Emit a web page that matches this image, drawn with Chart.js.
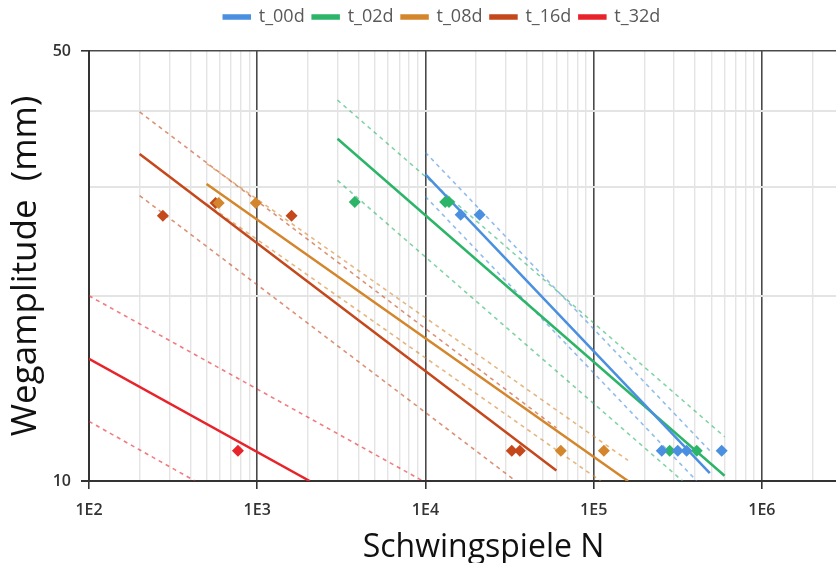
<!DOCTYPE html>
<html>
<head>
<meta charset="utf-8">
<script src="https://cdn.jsdelivr.net/npm/chart.js@4.4.0/dist/chart.umd.min.js"></script>
<style>
  html, body { margin: 0; padding: 0; background: #fff; overflow: hidden; }
</style>
</head>
<body>
<canvas id="chart" width="884" height="563"></canvas>
<script>
// series names + colours
const seriesNames = ['t_00d', 't_02d', 't_08d', 't_16d', 't_32d'];
const seriesColors = ['#4a8fe0', '#2cb569', '#d4862c', '#c4481c', '#e8232a'];

// measured points (N, amplitude mm)
const t00_N = [16200, 21000, 254000, 316000, 357000, 577000];
const t00_A = [27.1, 27.1, 11.2, 11.2, 11.2, 11.2];
const t02_N = [3800, 13100, 13800, 283000, 410000];
const t02_A = [28.4, 28.4, 28.4, 11.2, 11.2];
const t08_N = [590, 980, 63800, 115000];
const t08_A = [28.3, 28.3, 11.2, 11.2];
const t16_N = [275, 565, 1600, 32600, 36400];
const t16_A = [27.0, 28.3, 27.0, 11.2, 11.2];
const t32_N = [768];
const t32_A = [11.2];

// fitted lines and bounds, end points [N, A]
const t00_fit = [[1e4, 31.5], [4.9e5, 10.3]];
const t00_upper = [[1e4, 34.2], [4.9e5, 11.2]];
const t00_lower = [[1e4, 29.0], [4.1e5, 10]];
const t02_fit = [[3000, 36.0], [6.0e5, 10.2]];
const t02_upper = [[3000, 41.6], [6.0e5, 11.8]];
const t02_lower = [[3000, 30.8], [3.38e5, 10]];
const t08_fit = [[500, 30.4], [1.6e5, 10]];
const t08_upper = [[500, 32.8], [1.6e5, 10.8]];
const t08_lower = [[500, 28.2], [1.1e5, 10]];
const t16_fit = [[200, 34.0], [6.0e4, 10.4]];
const t16_upper = [[200, 39.8], [6.0e4, 12.2]];
const t16_lower = [[200, 29.1], [3.44e4, 10]];
const t32_fit = [[100, 15.8], [2050, 10]];
const t32_upper = [[100, 20.0], [9660, 10]];
const t32_lower = [[100, 12.5], [427, 10]];

// axes
const xMin = 100, xMax = 4.9e6;
const xDecades = [1e2, 1e3, 1e4, 1e5, 1e6];
const xLabels = ['1E2', '1E3', '1E4', '1E5', '1E6'];
const yTicks = [10, 20, 30, 40, 50];
const yLabels = ['10', '', '', '', '50'];

const pointsN = [t00_N, t02_N, t08_N, t16_N, t32_N];
const pointsA = [t00_A, t02_A, t08_A, t16_A, t32_A];
const fits = [t00_fit, t02_fit, t08_fit, t16_fit, t32_fit];
const uppers = [t00_upper, t02_upper, t08_upper, t16_upper, t32_upper];
const lowers = [t00_lower, t02_lower, t08_lower, t16_lower, t32_lower];

function withAlpha(hex, a) {
    let r = parseInt(hex.slice(1, 3), 16), g = parseInt(hex.slice(3, 5), 16), b = parseInt(hex.slice(5, 7), 16);
    return `rgba(${r},${g},${b},${a})`;
}
function toXY(pairs) {
    return pairs.map(p => ({ x: p[0], y: p[1] }));
}

let datasets = [];
for (let i = 0; i < seriesNames.length; i++) {
    let c = seriesColors[i];
    datasets.push({
        label: seriesNames[i],
        data: toXY(fits[i]),
        showLine: true,
        borderColor: c,
        backgroundColor: c,
        borderWidth: 2.5,
        pointRadius: 0,
        order: 2
    });
}
for (let i = 0; i < seriesNames.length; i++) {
    let c = seriesColors[i];
    [uppers[i], lowers[i]].forEach(b => {
        datasets.push({
            label: seriesNames[i] + ' bound',
            data: toXY(b),
            showLine: true,
            borderColor: withAlpha(c, 0.6),
            borderWidth: 1.6,
            borderDash: [4, 4],
            pointRadius: 0,
            order: 3
        });
    });
    datasets.push({
        label: seriesNames[i] + ' points',
        data: pointsN[i].map((n, k) => ({ x: n, y: pointsA[i][k] })),
        showLine: false,
        pointStyle: 'rectRot',
        pointRadius: 6,
        pointBorderWidth: 0,
        backgroundColor: c,
        borderColor: c,
        order: 1
    });
}

// minor grid: 1..9 of every decade, inside the axis range
let xGrid = [];
for (let d = 2; d <= 6; d++) {
    for (let m = 1; m <= 9; m++) {
        let v = m * Math.pow(10, d);
        if (v <= xMax) xGrid.push(v);
    }
}

function isDecade(v) {
    return xDecades.some(d => Math.abs(v - d) / d < 1e-6);
}

const legendGap = {
    id: 'legendGap',
    beforeInit(chart) {
        const fit = chart.legend.fit;
        chart.legend.fit = function () {
            fit.bind(chart.legend)();
            this.height += 15;
        };
    }
};

const fontFam = '"Open Sans", "Noto Sans", sans-serif';

new Chart(document.getElementById('chart'), {
    type: 'scatter',
    data: { datasets: datasets },
    plugins: [legendGap],
    options: {
        responsive: false,
        animation: false,
        layout: { padding: 0 },
        plugins: {
            legend: {
                position: 'top',
                labels: {
                    filter: item => seriesNames.includes(item.text),
                    boxWidth: 26,
                    boxHeight: 3,
                    padding: 8,
                    color: '#595959',
                    font: { family: fontFam, size: 18 }
                }
            },
            tooltip: { enabled: false }
        },
        scales: {
            x: {
                type: 'logarithmic',
                min: xMin,
                max: xMax,
                afterBuildTicks: s => { s.ticks = xGrid.map(v => ({ value: v })); },
                afterFit: s => { s.height = 82; },
                ticks: {
                    autoSkip: false,
                    maxRotation: 0,
                    padding: 12,
                    color: '#333',
                    font: { family: fontFam, size: 16, weight: 600 },
                    callback: v => {
                        let k = xDecades.findIndex(d => Math.abs(v - d) / d < 1e-6);
                        return k >= 0 ? xLabels[k] : '';
                    }
                },
                grid: {
                    color: ctx => isDecade(ctx.tick.value) ? '#4a4a4a' : '#e4e4e4',
                    lineWidth: ctx => isDecade(ctx.tick.value) ? 1.6 : 1.4,
                    tickLength: 8,
                    tickColor: ctx => isDecade(ctx.tick.value) ? '#333' : 'rgba(0,0,0,0)'
                },
                border: { color: '#333', width: 2 },
                title: {
                    display: true,
                    text: 'Schwingspiele N',
                    color: '#111',
                    font: { family: fontFam, size: 32 },
                    padding: { top: 0, bottom: -4 }
                }
            },
            y: {
                type: 'logarithmic',
                min: 10,
                max: 50,
                afterBuildTicks: s => { s.ticks = yTicks.map(v => ({ value: v })); },
                afterFit: s => { s.width = 89; },
                ticks: {
                    autoSkip: false,
                    padding: 10,
                    color: '#333',
                    font: { family: fontFam, size: 16, weight: 600 },
                    callback: v => {
                        let k = yTicks.indexOf(v);
                        return k >= 0 ? yLabels[k] : '';
                    }
                },
                grid: {
                    color: ctx => (ctx.tick.value === 50 || ctx.tick.value === 10) ? '#4a4a4a' : '#e4e4e4',
                    lineWidth: ctx => (ctx.tick.value === 50) ? 1.6 : 2,
                    tickLength: 8,
                    tickColor: ctx => (ctx.tick.value === 50 || ctx.tick.value === 10) ? '#333' : 'rgba(0,0,0,0)'
                },
                border: { color: '#333', width: 2 },
                title: {
                    display: true,
                    text: 'Wegamplitude  (mm)',
                    color: '#111',
                    font: { family: fontFam, size: 35 },
                    padding: { top: 5, bottom: 0 }
                }
            }
        }
    }
});
</script>
</body>
</html>
